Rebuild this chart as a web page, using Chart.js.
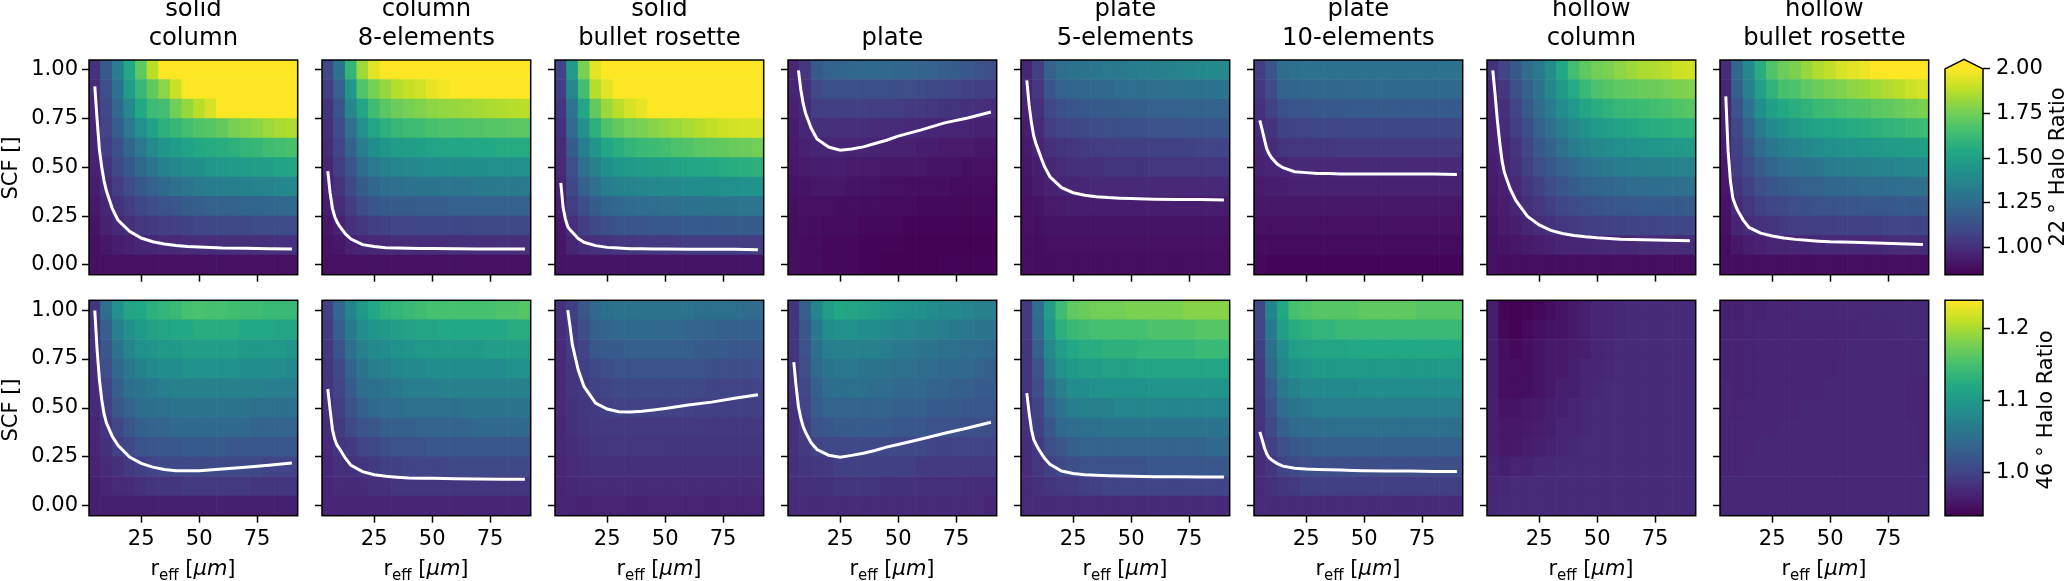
<!DOCTYPE html>
<html>
<head>
<meta charset="utf-8">
<style>
  html, body { margin: 0; padding: 0; background: #fff; overflow: hidden; width: 2067px; height: 581px; }
  body { position: relative; font-family: "DejaVu Sans", sans-serif; color: #000; }
  canvas { position: absolute; }
  .lab { position: absolute; font-size: 21px; line-height: 25px; white-space: nowrap; }
  .lab sub { font-size: 15px; line-height: 0; vertical-align: -5px; }
</style>
<script src="https://cdn.jsdelivr.net/npm/chart.js@4"></script>
</head>
<body>
<script>
var rEff = [5,10,15,20,25,30,35,40,45,50,55,60,65,70,75,80,85,90];
var scf = [0,0.1,0.2,0.3,0.4,0.5,0.6,0.7,0.8,0.9,1];
var lineR = [5,6,7,8,9,10,12.5,15,20,25,30,35,40,45,50,60,70,80,90];
var rTicks = [25,50,75];
var scfTicks = [0,0.25,0.5,0.75,1];
var cbTicks22 = [1,1.25,1.5,1.75,2];
var cbTicks46 = [1,1.1,1.2];
var viridisStops = ['#440154','#482475','#414487','#355f8d','#2a788e','#21918c','#22a884','#44bf70','#7ad151','#bddf26','#fde725'];

// each table: rows go from SCF 0 up to SCF 1, columns follow rEff
var solidColumn22 = [
[.90,.90,.90,.90,.90,.90,.90,.90,.90,.90,.90,.90,.90,.90,.90,.90,.90,.90],
[.90,.92,.94,.95,.97,.97,.98,.98,.99,.99,.99,1.0,1.0,1.0,1.0,1.0,1.01,1.01],
[.91,.95,.98,1.0,1.03,1.04,1.05,1.06,1.07,1.09,1.09,1.1,1.1,1.1,1.11,1.11,1.11,1.11],
[.93,.97,1.02,1.05,1.09,1.12,1.14,1.15,1.18,1.19,1.2,1.21,1.21,1.22,1.22,1.23,1.23,1.24],
[.94,.99,1.05,1.11,1.16,1.2,1.24,1.27,1.3,1.31,1.32,1.33,1.34,1.35,1.36,1.36,1.37,1.38],
[.95,1.02,1.1,1.17,1.24,1.3,1.35,1.38,1.41,1.42,1.45,1.46,1.47,1.48,1.49,1.5,1.51,1.52],
[.96,1.05,1.13,1.23,1.31,1.39,1.44,1.48,1.51,1.54,1.55,1.56,1.58,1.6,1.61,1.64,1.65,1.66],
[.97,1.08,1.19,1.31,1.42,1.51,1.58,1.61,1.65,1.68,1.69,1.72,1.76,1.78,1.8,1.83,1.85,1.86],
[.98,1.10,1.24,1.38,1.54,1.63,1.65,1.75,1.82,1.88,1.93,2.02,2.02,2.02,2.02,2.02,2.02,2.02],
[.99,1.13,1.28,1.48,1.61,1.72,1.8,1.91,2.02,2.02,2.02,2.02,2.02,2.02,2.02,2.02,2.02,2.02],
[1.01,1.17,1.33,1.54,1.71,1.88,2.02,2.02,2.02,2.02,2.02,2.02,2.02,2.02,2.02,2.02,2.02,2.02]];
var column8El22 = [
[.9,.9,.9,.9,.9,.9,.9,.9,.9,.9,.9,.9,.9,.9,.9,.9,.9,.9],
[.91,.92,.95,.97,.98,.98,.99,.99,.99,.99,.99,1.0,1.0,1.0,1.0,1.0,1.0,1.0],
[.92,.95,1.0,1.03,1.06,1.07,1.08,1.08,1.09,1.09,1.09,1.09,1.09,1.1,1.1,1.1,1.1,1.1],
[.94,.99,1.05,1.11,1.15,1.17,1.18,1.18,1.19,1.19,1.19,1.2,1.2,1.2,1.2,1.2,1.2,1.2],
[.95,1.02,1.1,1.18,1.23,1.26,1.27,1.28,1.29,1.29,1.3,1.3,1.3,1.31,1.31,1.31,1.31,1.31],
[.97,1.05,1.15,1.25,1.31,1.35,1.37,1.38,1.39,1.4,1.4,1.41,1.41,1.42,1.42,1.42,1.42,1.42],
[.985,1.08,1.21,1.33,1.41,1.45,1.48,1.49,1.5,1.51,1.52,1.53,1.53,1.54,1.54,1.55,1.55,1.55],
[1.0,1.11,1.27,1.42,1.52,1.58,1.61,1.63,1.64,1.66,1.67,1.67,1.68,1.68,1.69,1.69,1.7,1.7],
[1.02,1.15,1.37,1.52,1.64,1.7,1.74,1.76,1.78,1.8,1.81,1.82,1.83,1.84,1.85,1.86,1.87,1.88],
[1.06,1.2,1.45,1.68,1.76,1.82,1.87,1.9,1.92,1.96,1.98,2.01,2.02,2.02,2.02,2.02,2.02,2.02],
[1.1,1.29,1.6,1.83,1.95,2.02,2.02,2.02,2.02,2.02,2.02,2.02,2.02,2.02,2.02,2.02,2.02,2.02]];
var solidBullet22 = [
[.91,.91,.91,.91,.91,.91,.91,.91,.91,.91,.91,.91,.91,.91,.91,.91,.91,.91],
[.915,.96,.99,1.01,1.02,1.03,1.03,1.04,1.04,1.04,1.04,1.05,1.05,1.05,1.05,1.05,1.05,1.05],
[.92,1.0,1.06,1.1,1.12,1.14,1.15,1.15,1.16,1.16,1.16,1.17,1.17,1.17,1.17,1.18,1.18,1.18],
[.94,1.05,1.13,1.18,1.22,1.24,1.25,1.26,1.26,1.27,1.27,1.28,1.28,1.29,1.29,1.29,1.3,1.3],
[.96,1.09,1.2,1.27,1.32,1.35,1.36,1.37,1.38,1.39,1.39,1.4,1.41,1.41,1.42,1.42,1.43,1.43],
[.98,1.13,1.27,1.35,1.42,1.45,1.47,1.48,1.49,1.5,1.51,1.52,1.53,1.54,1.55,1.56,1.57,1.58],
[.99,1.18,1.34,1.44,1.53,1.57,1.6,1.62,1.63,1.65,1.67,1.68,1.7,1.71,1.72,1.73,1.74,1.75],
[1.01,1.25,1.43,1.58,1.68,1.72,1.75,1.77,1.79,1.81,1.83,1.85,1.87,1.89,1.91,1.92,1.93,1.93],
[1.03,1.3,1.53,1.72,1.83,1.88,1.93,1.96,2.02,2.02,2.02,2.02,2.02,2.02,2.02,2.02,2.02,2.02],
[1.05,1.38,1.65,1.87,1.95,2.02,2.02,2.02,2.02,2.02,2.02,2.02,2.02,2.02,2.02,2.02,2.02,2.02],
[1.08,1.47,1.77,1.95,2.02,2.02,2.02,2.02,2.02,2.02,2.02,2.02,2.02,2.02,2.02,2.02,2.02,2.02]];
var plate22 = [
[.89,.88,.88,.87,.87,.87,.86,.86,.85,.85,.85,.85,.85,.86,.86,.86,.86,.86],
[.89,.88,.88,.87,.87,.87,.86,.86,.86,.86,.85,.85,.85,.85,.85,.85,.85,.85],
[.89,.89,.89,.88,.88,.88,.87,.87,.87,.87,.86,.86,.86,.86,.86,.86,.86,.86],
[.9,.9,.9,.9,.89,.89,.89,.89,.88,.88,.88,.87,.87,.87,.87,.87,.87,.87],
[.91,.91,.92,.92,.92,.91,.91,.91,.9,.9,.89,.89,.89,.89,.88,.88,.88,.88],
[.92,.93,.94,.94,.94,.93,.93,.93,.92,.92,.92,.92,.91,.91,.91,.9,.9,.9],
[.93,.95,.97,.97,.97,.96,.96,.96,.95,.95,.95,.94,.94,.93,.93,.93,.92,.92],
[.94,.97,1.0,1.01,1.0,1.0,1.0,.99,.99,.99,.98,.98,.97,.97,.96,.96,.95,.95],
[.95,.98,1.05,1.06,1.06,1.06,1.06,1.05,1.05,1.05,1.04,1.04,1.03,1.02,1.02,1.01,1.0,.99],
[.96,1.0,1.1,1.13,1.13,1.13,1.13,1.13,1.13,1.12,1.12,1.11,1.1,1.09,1.08,1.07,1.06,1.05],
[.97,1.03,1.17,1.2,1.22,1.23,1.24,1.24,1.24,1.23,1.22,1.21,1.2,1.19,1.18,1.16,1.14,1.12]];
var plate5El22 = [
[.89,.89,.89,.89,.89,.89,.89,.89,.89,.89,.89,.89,.89,.89,.89,.89,.89,.89],
[.89,.89,.9,.9,.9,.9,.9,.9,.9,.9,.9,.9,.9,.9,.9,.9,.9,.9],
[.9,.9,.91,.91,.91,.91,.91,.91,.91,.91,.91,.91,.91,.91,.91,.91,.91,.91],
[.9,.91,.93,.93,.94,.94,.94,.94,.94,.94,.94,.94,.94,.94,.94,.94,.94,.94],
[.91,.93,.95,.96,.97,.97,.98,.98,.98,.98,.98,.98,.98,.98,.98,.98,.98,.98],
[.92,.94,.97,.99,1.0,1.01,1.01,1.02,1.02,1.02,1.02,1.03,1.03,1.03,1.03,1.03,1.03,1.03],
[.93,.96,1.0,1.02,1.03,1.04,1.05,1.05,1.06,1.06,1.06,1.07,1.07,1.07,1.07,1.08,1.08,1.08],
[.94,.98,1.05,1.08,1.09,1.1,1.11,1.12,1.12,1.13,1.13,1.14,1.14,1.14,1.15,1.15,1.15,1.15],
[.95,1.0,1.09,1.13,1.15,1.16,1.17,1.18,1.18,1.19,1.19,1.2,1.2,1.2,1.21,1.21,1.21,1.21],
[.96,1.03,1.15,1.2,1.22,1.23,1.24,1.24,1.25,1.26,1.26,1.27,1.27,1.27,1.28,1.28,1.28,1.29],
[.97,1.06,1.2,1.26,1.28,1.29,1.3,1.31,1.31,1.32,1.33,1.34,1.35,1.36,1.37,1.38,1.39,1.39]];
var plate10El22 = [
[.87,.86,.86,.86,.86,.86,.86,.86,.86,.86,.86,.86,.86,.86,.86,.86,.86,.86],
[.88,.88,.88,.88,.88,.88,.88,.88,.88,.88,.88,.88,.88,.88,.88,.88,.88,.88],
[.9,.9,.9,.9,.9,.9,.9,.9,.9,.9,.9,.9,.9,.9,.9,.9,.9,.9],
[.92,.92,.92,.92,.92,.92,.92,.92,.92,.92,.92,.92,.92,.92,.92,.92,.92,.92],
[.93,.94,.94,.95,.95,.95,.95,.95,.95,.95,.95,.95,.95,.95,.95,.95,.95,.95],
[.95,.96,.97,.98,.98,.98,.98,.98,.98,.98,.98,.98,.98,.98,.98,.98,.98,.98],
[.97,.99,1.02,1.03,1.03,1.03,1.03,1.04,1.04,1.04,1.04,1.04,1.04,1.04,1.04,1.04,1.04,1.04],
[.99,1.02,1.07,1.08,1.08,1.09,1.09,1.09,1.09,1.09,1.09,1.09,1.09,1.09,1.09,1.09,1.09,1.09],
[1.01,1.07,1.13,1.15,1.15,1.16,1.16,1.16,1.17,1.17,1.17,1.17,1.17,1.17,1.17,1.17,1.17,1.17],
[1.03,1.11,1.2,1.22,1.23,1.23,1.23,1.23,1.24,1.24,1.24,1.24,1.24,1.24,1.24,1.24,1.24,1.24],
[1.05,1.15,1.25,1.27,1.28,1.28,1.28,1.28,1.28,1.28,1.28,1.28,1.28,1.28,1.28,1.28,1.28,1.29]];
var hollowColumn22 = [
[.9,.89,.89,.89,.89,.89,.89,.89,.89,.89,.89,.89,.89,.89,.89,.89,.89,.89],
[.9,.91,.92,.93,.94,.95,.96,.97,.97,.98,.98,.98,.98,.99,.99,.99,.99,.99],
[.91,.93,.94,.97,.99,1.01,1.03,1.04,1.05,1.06,1.07,1.07,1.08,1.08,1.08,1.09,1.09,1.09],
[.92,.94,.96,1.0,1.03,1.06,1.09,1.11,1.13,1.14,1.15,1.16,1.16,1.17,1.17,1.17,1.17,1.18],
[.93,.95,.98,1.03,1.07,1.11,1.15,1.18,1.2,1.22,1.23,1.24,1.25,1.25,1.26,1.26,1.27,1.27],
[.94,.96,1.0,1.06,1.12,1.16,1.2,1.24,1.27,1.3,1.31,1.32,1.33,1.34,1.35,1.35,1.36,1.36],
[.95,.97,1.02,1.09,1.16,1.21,1.27,1.32,1.36,1.38,1.4,1.42,1.43,1.44,1.45,1.46,1.46,1.47],
[.95,.99,1.05,1.13,1.2,1.27,1.33,1.39,1.43,1.47,1.49,1.51,1.53,1.55,1.56,1.57,1.58,1.58],
[.96,1.0,1.08,1.17,1.25,1.32,1.4,1.46,1.52,1.56,1.59,1.61,1.62,1.63,1.65,1.66,1.68,1.69],
[.96,1.03,1.12,1.21,1.29,1.37,1.47,1.55,1.62,1.67,1.69,1.71,1.72,1.73,1.74,1.75,1.77,1.78],
[1.0,1.08,1.16,1.25,1.31,1.4,1.54,1.65,1.71,1.75,1.77,1.8,1.83,1.85,1.86,1.88,1.91,1.92]];
var hollowBullet22 = [
[.89,.89,.89,.89,.89,.89,.89,.89,.89,.89,.89,.89,.89,.89,.89,.89,.89,.89],
[.89,.92,.94,.95,.96,.96,.97,.97,.98,.98,.98,.98,.98,.98,.99,.99,.99,.99],
[.9,.96,.99,1.01,1.02,1.04,1.05,1.05,1.06,1.06,1.07,1.07,1.07,1.07,1.08,1.08,1.08,1.08],
[.91,.99,1.03,1.07,1.09,1.1,1.12,1.13,1.14,1.14,1.15,1.15,1.16,1.16,1.16,1.17,1.17,1.17],
[.92,1.02,1.07,1.12,1.15,1.17,1.19,1.2,1.21,1.23,1.23,1.24,1.25,1.25,1.26,1.26,1.27,1.27],
[.93,1.05,1.11,1.18,1.22,1.25,1.27,1.29,1.3,1.32,1.33,1.34,1.35,1.36,1.36,1.37,1.38,1.38],
[.94,1.07,1.16,1.25,1.3,1.34,1.36,1.38,1.4,1.42,1.43,1.44,1.45,1.46,1.47,1.48,1.49,1.5],
[.95,1.1,1.21,1.32,1.39,1.43,1.46,1.49,1.51,1.53,1.54,1.55,1.56,1.58,1.59,1.6,1.62,1.63],
[.96,1.14,1.28,1.42,1.5,1.54,1.57,1.59,1.62,1.64,1.66,1.67,1.68,1.7,1.71,1.73,1.75,1.77],
[.97,1.19,1.35,1.5,1.59,1.66,1.67,1.71,1.74,1.76,1.78,1.8,1.82,1.84,1.86,1.88,1.91,1.93],
[.99,1.23,1.39,1.56,1.68,1.74,1.77,1.82,1.86,1.89,1.93,1.95,1.97,2.02,2.02,2.02,2.02,2.02]];

var solidColumn46 = [
[.965,.965,.965,.965,.965,.965,.965,.965,.965,.965,.965,.965,.965,.965,.965,.965,.965,.965],
[.965,.97,.975,.975,.98,.985,.985,.985,.99,.99,.99,.99,.99,.99,.985,.985,.985,.985],
[.968,.975,.98,.99,.995,1.0,1.005,1.005,1.005,1.005,1.005,1.005,1.005,1.005,1.005,1.0,1.0,1.0],
[.97,.98,.995,1.005,1.015,1.02,1.02,1.02,1.025,1.025,1.025,1.025,1.02,1.02,1.02,1.02,1.02,1.02],
[.972,.985,1.005,1.02,1.03,1.035,1.035,1.04,1.04,1.04,1.04,1.04,1.04,1.04,1.035,1.035,1.035,1.035],
[.975,.995,1.02,1.035,1.045,1.05,1.05,1.055,1.055,1.055,1.055,1.055,1.055,1.055,1.05,1.05,1.05,1.05],
[.975,1.0,1.03,1.05,1.055,1.06,1.065,1.07,1.07,1.07,1.07,1.07,1.07,1.07,1.07,1.065,1.065,1.065],
[.978,1.01,1.04,1.06,1.07,1.08,1.085,1.085,1.09,1.09,1.09,1.09,1.09,1.085,1.085,1.085,1.085,1.08],
[.98,1.02,1.055,1.075,1.09,1.095,1.1,1.1,1.105,1.105,1.105,1.105,1.105,1.1,1.1,1.1,1.1,1.095],
[.98,1.03,1.07,1.09,1.1,1.11,1.115,1.12,1.12,1.125,1.125,1.125,1.125,1.12,1.12,1.12,1.115,1.115],
[.985,1.05,1.09,1.115,1.12,1.13,1.135,1.14,1.15,1.153,1.15,1.15,1.147,1.145,1.145,1.14,1.14,1.14]];
var column8El46 = [
[.97,.97,.97,.97,.97,.97,.97,.97,.97,.97,.97,.97,.97,.97,.97,.97,.97,.97],
[.97,.975,.975,.975,.98,.98,.985,.985,.985,.985,.985,.985,.985,.985,.985,.985,.985,.985],
[.972,.98,.98,.985,.99,.995,.995,1.0,1.0,1.0,1.0,1.005,1.005,1.005,1.005,1.005,1.005,1.005],
[.975,.985,.99,1.0,1.005,1.01,1.015,1.015,1.015,1.02,1.02,1.02,1.02,1.02,1.02,1.02,1.02,1.02],
[.978,.99,1.005,1.015,1.02,1.03,1.03,1.03,1.035,1.035,1.035,1.035,1.035,1.04,1.04,1.04,1.04,1.04],
[.98,.995,1.015,1.03,1.04,1.045,1.045,1.05,1.05,1.05,1.05,1.05,1.055,1.055,1.055,1.055,1.055,1.055],
[.983,1.0,1.025,1.045,1.05,1.055,1.06,1.065,1.065,1.065,1.07,1.07,1.07,1.07,1.07,1.07,1.07,1.07],
[.985,1.005,1.035,1.055,1.065,1.07,1.075,1.08,1.08,1.085,1.085,1.085,1.085,1.085,1.085,1.085,1.09,1.09],
[.988,1.015,1.05,1.07,1.08,1.085,1.09,1.095,1.1,1.1,1.1,1.1,1.1,1.1,1.105,1.105,1.105,1.105],
[.99,1.03,1.06,1.085,1.095,1.1,1.105,1.11,1.115,1.115,1.12,1.12,1.12,1.12,1.12,1.12,1.125,1.125],
[.995,1.04,1.075,1.10,1.12,1.13,1.135,1.14,1.145,1.15,1.15,1.15,1.15,1.15,1.15,1.155,1.155,1.16]];
var solidBullet46 = [
[.97,.968,.968,.968,.968,.968,.968,.968,.968,.968,.968,.968,.968,.968,.968,.968,.968,.968],
[.97,.972,.975,.975,.975,.975,.975,.975,.975,.975,.975,.975,.975,.975,.975,.975,.975,.975],
[.97,.975,.978,.98,.98,.98,.98,.98,.98,.98,.98,.98,.98,.98,.98,.98,.98,.98],
[.972,.978,.98,.985,.985,.987,.987,.987,.987,.985,.985,.985,.985,.985,.985,.985,.985,.985],
[.972,.98,.985,.988,.99,.99,.99,.99,.99,.99,.99,.99,.99,.988,.988,.988,.988,.988],
[.975,.982,.988,.99,.995,.998,.998,.998,.998,.998,.998,.998,.995,.995,.995,.995,.995,.995],
[.975,.985,.99,.998,1.0,1.005,1.005,1.005,1.005,1.005,1.005,1.005,1.005,1.0,1.0,1.0,1.0,1.0],
[.975,.985,.995,1.005,1.01,1.015,1.015,1.015,1.015,1.015,1.015,1.015,1.015,1.01,1.01,1.01,1.01,1.01],
[.975,.99,1.0,1.02,1.025,1.025,1.03,1.03,1.03,1.03,1.03,1.03,1.025,1.025,1.025,1.02,1.02,1.02],
[.978,.99,1.01,1.03,1.035,1.04,1.04,1.04,1.04,1.04,1.04,1.035,1.035,1.035,1.03,1.03,1.03,1.03],
[.98,.995,1.02,1.04,1.05,1.055,1.055,1.055,1.055,1.055,1.055,1.055,1.05,1.05,1.05,1.05,1.045,1.045]];
var plate46 = [
[.975,.975,.975,.975,.975,.975,.975,.975,.975,.975,.975,.975,.975,.975,.975,.975,.975,.97],
[.978,.98,.982,.982,.985,.985,.985,.985,.982,.982,.982,.98,.98,.98,.98,.978,.978,.978],
[.98,.985,.988,.99,.995,.995,.995,.995,.995,.995,.995,.99,.99,.99,.99,.99,.99,.99],
[.98,.99,1.0,1.005,1.005,1.005,1.005,1.005,1.005,1.005,1.005,1.005,1.0,1.0,1.0,1.0,1.0,1.0],
[.98,.995,1.015,1.02,1.025,1.025,1.025,1.025,1.025,1.02,1.02,1.02,1.015,1.015,1.015,1.01,1.01,1.01],
[.982,1.0,1.025,1.035,1.035,1.035,1.035,1.035,1.035,1.03,1.03,1.03,1.025,1.025,1.025,1.02,1.02,1.02],
[.983,1.005,1.03,1.045,1.05,1.05,1.05,1.045,1.045,1.04,1.04,1.04,1.035,1.035,1.03,1.03,1.025,1.025],
[.985,1.01,1.04,1.055,1.06,1.06,1.055,1.055,1.055,1.05,1.05,1.045,1.045,1.04,1.04,1.04,1.035,1.03],
[.985,1.015,1.05,1.065,1.07,1.07,1.07,1.07,1.065,1.06,1.06,1.055,1.055,1.05,1.05,1.045,1.045,1.04],
[.985,1.02,1.06,1.085,1.09,1.09,1.085,1.085,1.08,1.075,1.075,1.07,1.07,1.065,1.06,1.06,1.055,1.055],
[.985,1.03,1.075,1.105,1.12,1.115,1.11,1.105,1.1,1.095,1.09,1.09,1.085,1.08,1.08,1.075,1.07,1.07]];
var plate5El46 = [
[.975,.975,.975,.975,.975,.975,.975,.975,.975,.975,.975,.975,.975,.975,.975,.975,.975,.975],
[.975,.98,.985,.99,.99,.995,.995,1.0,1.0,1.0,1.0,1.0,1.0,1.0,1.0,1.0,1.0,1.0],
[.975,.985,.995,1.005,1.01,1.015,1.015,1.015,1.015,1.015,1.015,1.02,1.02,1.02,1.02,1.02,1.02,1.02],
[.978,.99,1.01,1.02,1.03,1.035,1.035,1.035,1.035,1.035,1.035,1.035,1.035,1.035,1.035,1.035,1.04,1.04],
[.98,.995,1.02,1.04,1.045,1.05,1.05,1.055,1.055,1.055,1.055,1.055,1.055,1.055,1.055,1.055,1.055,1.055],
[.98,1.0,1.035,1.055,1.065,1.07,1.07,1.07,1.075,1.075,1.075,1.075,1.075,1.075,1.075,1.075,1.075,1.075],
[.983,1.01,1.05,1.07,1.085,1.085,1.09,1.09,1.09,1.09,1.09,1.095,1.095,1.095,1.095,1.095,1.095,1.095],
[.985,1.015,1.065,1.09,1.1,1.105,1.105,1.11,1.11,1.11,1.115,1.115,1.115,1.115,1.115,1.115,1.115,1.115],
[.985,1.03,1.08,1.105,1.12,1.125,1.125,1.13,1.13,1.13,1.135,1.135,1.135,1.135,1.135,1.14,1.14,1.14],
[.988,1.04,1.095,1.13,1.14,1.145,1.15,1.15,1.15,1.15,1.15,1.155,1.155,1.155,1.155,1.16,1.16,1.16],
[.99,1.05,1.105,1.145,1.165,1.17,1.175,1.175,1.175,1.18,1.18,1.18,1.18,1.18,1.185,1.185,1.185,1.185]];
var plate10El46 = [
[.975,.975,.975,.975,.975,.975,.975,.975,.975,.975,.975,.975,.975,.975,.975,.975,.975,.975],
[.975,.98,.985,.99,.995,.995,.995,.995,.995,.995,.995,.995,.995,.995,.995,.995,.995,.995],
[.978,.985,1.0,1.005,1.01,1.01,1.01,1.01,1.01,1.01,1.01,1.01,1.01,1.01,1.01,1.01,1.01,1.01],
[.98,.995,1.01,1.02,1.025,1.03,1.03,1.03,1.03,1.03,1.03,1.03,1.03,1.03,1.03,1.03,1.03,1.03],
[.983,1.005,1.03,1.04,1.045,1.045,1.05,1.05,1.05,1.05,1.05,1.05,1.05,1.05,1.05,1.05,1.05,1.05],
[.985,1.015,1.045,1.055,1.06,1.065,1.065,1.065,1.065,1.065,1.065,1.065,1.065,1.065,1.065,1.065,1.065,1.065],
[.988,1.025,1.06,1.07,1.08,1.08,1.08,1.08,1.08,1.085,1.085,1.085,1.085,1.085,1.085,1.085,1.085,1.085],
[.99,1.04,1.075,1.09,1.095,1.1,1.1,1.1,1.1,1.1,1.1,1.1,1.1,1.1,1.1,1.1,1.1,1.1],
[.995,1.05,1.085,1.105,1.11,1.115,1.115,1.115,1.12,1.12,1.12,1.12,1.12,1.12,1.12,1.12,1.12,1.12],
[1.0,1.06,1.105,1.125,1.13,1.135,1.135,1.14,1.14,1.14,1.14,1.14,1.14,1.14,1.14,1.14,1.14,1.14],
[1.005,1.075,1.12,1.15,1.155,1.16,1.16,1.16,1.16,1.165,1.165,1.165,1.165,1.165,1.16,1.16,1.16,1.16]];
var hollowColumn46 = [
[.972,.975,.975,.975,.975,.975,.975,.975,.975,.975,.975,.975,.975,.975,.975,.975,.975,.975],
[.97,.972,.975,.975,.975,.975,.975,.975,.975,.975,.975,.975,.975,.975,.975,.975,.975,.975],
[.968,.965,.968,.968,.972,.972,.975,.975,.975,.975,.975,.975,.975,.975,.975,.975,.975,.975],
[.965,.958,.96,.962,.965,.968,.97,.972,.975,.975,.975,.975,.975,.975,.975,.975,.975,.975],
[.965,.958,.958,.96,.962,.965,.97,.97,.972,.975,.975,.975,.975,.975,.975,.975,.975,.975],
[.965,.955,.955,.958,.96,.965,.965,.97,.972,.975,.975,.975,.975,.975,.975,.975,.975,.975],
[.963,.952,.95,.952,.955,.96,.965,.965,.97,.972,.975,.975,.975,.975,.975,.975,.975,.975],
[.963,.952,.95,.95,.955,.96,.96,.965,.97,.97,.972,.975,.975,.975,.975,.975,.975,.975],
[.963,.95,.945,.95,.955,.96,.96,.962,.965,.97,.972,.975,.975,.975,.975,.975,.975,.975],
[.963,.945,.94,.945,.95,.955,.955,.96,.965,.97,.97,.972,.975,.975,.975,.975,.975,.975],
[.963,.942,.94,.942,.945,.95,.955,.96,.965,.97,.97,.972,.975,.975,.975,.975,.975,.975]];
var hollowBullet46 = [
[.972,.972,.972,.972,.972,.972,.972,.972,.972,.972,.972,.972,.972,.972,.972,.972,.972,.972],
[.972,.972,.972,.972,.972,.972,.972,.972,.972,.972,.972,.972,.972,.972,.972,.972,.972,.972],
[.97,.97,.972,.972,.972,.972,.972,.972,.972,.972,.972,.972,.972,.972,.972,.972,.972,.972],
[.97,.97,.97,.972,.972,.972,.972,.972,.972,.972,.972,.972,.972,.972,.972,.972,.972,.97],
[.97,.97,.97,.97,.97,.972,.972,.972,.972,.972,.972,.972,.972,.972,.972,.972,.972,.97],
[.97,.968,.97,.97,.97,.97,.97,.972,.972,.972,.972,.972,.972,.972,.972,.972,.97,.97],
[.97,.968,.968,.97,.97,.97,.97,.97,.97,.972,.972,.972,.972,.972,.972,.972,.97,.97],
[.968,.968,.968,.97,.97,.97,.97,.97,.97,.97,.972,.972,.972,.972,.972,.972,.972,.972],
[.968,.968,.968,.97,.97,.97,.97,.97,.97,.97,.97,.972,.972,.972,.972,.972,.972,.972],
[.968,.968,.968,.97,.97,.97,.97,.97,.97,.97,.97,.97,.972,.972,.972,.974,.974,.974],
[.966,.966,.968,.968,.97,.97,.97,.972,.972,.972,.974,.974,.974,.974,.974,.974,.974,.974]];

// white curves, values at lineR
var solidColumnLine22 = [.915,.745,.59,.50,.43,.38,.29,.23,.172,.138,.119,.107,.10,.095,.092,.087,.085,.083,.082];
var column8ElLine22 = [.481,.37,.29,.247,.22,.20,.16,.133,.104,.094,.088,.087,.085,.084,.084,.083,.082,.082,.082];
var solidBulletLine22 = [.42,.294,.235,.196,.18,.167,.135,.116,.099,.09,.087,.083,.083,.082,.082,.081,.08,.08,.078];
var plateLine22 = [null,null,.997,.90,.83,.78,.70,.646,.604,.588,.594,.605,.622,.639,.66,.692,.728,.753,.784];
var plate5ElLine22 = [.946,.82,.728,.66,.62,.587,.507,.452,.396,.37,.357,.35,.345,.342,.34,.337,.335,.335,.333];
var plate10ElLine22 = [.741,.694,.643,.595,.57,.55,.517,.498,.478,.473,.469,.468,.466,.466,.466,.466,.466,.466,.464];
var hollowColumnLine22 = [.997,.873,.737,.626,.533,.474,.389,.329,.248,.205,.177,.161,.151,.144,.139,.132,.129,.126,.124];
var hollowBulletLine22 = [.864,.583,.43,.345,.31,.282,.23,.192,.163,.148,.138,.131,.126,.122,.119,.116,.112,.109,.105];
var solidColumnLine46 = [.998,.797,.644,.542,.47,.424,.356,.31,.249,.217,.198,.186,.18,.179,.179,.188,.198,.208,.219];
var column8ElLine46 = [.597,.492,.39,.34,.31,.293,.245,.207,.175,.159,.151,.146,.142,.141,.141,.139,.137,.136,.136];
var solidBulletLine46 = [null,null,null,1.0,.915,.822,.695,.61,.525,.495,.481,.48,.483,.49,.498,.515,.53,.55,.568];
var plateLine46 = [.734,.61,.508,.449,.407,.378,.322,.288,.259,.249,.258,.269,.283,.30,.314,.342,.371,.398,.427];
var plate5ElLine46 = [.576,.475,.39,.339,.314,.292,.246,.212,.178,.166,.159,.156,.154,.153,.151,.149,.149,.147,.147];
var plate10ElLine46 = [.378,.339,.297,.266,.246,.236,.216,.203,.192,.188,.186,.185,.183,.181,.18,.178,.178,.176,.176];

var titles = [['solid','column'],['column','8-elements'],['solid','bullet rosette'],['','plate'],['plate','5-elements'],['plate','10-elements'],['hollow','column'],['hollow','bullet rosette']];
var tables22 = [solidColumn22,column8El22,solidBullet22,plate22,plate5El22,plate10El22,hollowColumn22,hollowBullet22];
var tables46 = [solidColumn46,column8El46,solidBullet46,plate46,plate5El46,plate10El46,hollowColumn46,hollowBullet46];
var lines22 = [solidColumnLine22,column8ElLine22,solidBulletLine22,plateLine22,plate5ElLine22,plate10ElLine22,hollowColumnLine22,hollowBulletLine22];
var lines46 = [solidColumnLine46,column8ElLine46,solidBulletLine46,plateLine46,plate5ElLine46,plate10ElLine46,null,null];

var range22 = [0.846,2.0];
var range46 = [0.939,1.24];

Chart.defaults.font.family = '"DejaVu Sans"';
Chart.defaults.color = '#000';
Chart.defaults.animation = false;

function hexRgb(h) {
  return [parseInt(h.substr(1,2),16),parseInt(h.substr(3,2),16),parseInt(h.substr(5,2),16)];
}
function viridis(t) {
  t = Math.max(0,Math.min(1,t));
  var p = t*(viridisStops.length-1), i = Math.min(Math.floor(p),viridisStops.length-2), f = p-i;
  var a = hexRgb(viridisStops[i]), b = hexRgb(viridisStops[i+1]);
  return 'rgb('+Math.round(a[0]+(b[0]-a[0])*f)+','+Math.round(a[1]+(b[1]-a[1])*f)+','+Math.round(a[2]+(b[2]-a[2])*f)+')';
}

var frame = {
  id: 'frame',
  afterDatasetsDraw: function(chart) {
    var a = chart.chartArea, c = chart.ctx;
    c.save();
    c.strokeStyle = '#000';
    c.lineWidth = 1.5;
    c.strokeRect(a.left,a.top,a.right-a.left,a.bottom-a.top);
    c.restore();
  }
};

function addCanvas(left,top,w,h) {
  var cv = document.createElement('canvas');
  cv.width = w; cv.height = h;
  cv.style.left = left+'px'; cv.style.top = top+'px';
  cv.style.width = w+'px'; cv.style.height = h+'px';
  document.body.appendChild(cv);
  return cv;
}

function addLabel(html,x,y,rot) {
  var d = document.createElement('div');
  d.className = 'lab';
  d.innerHTML = html;
  d.style.left = x+'px'; d.style.top = y+'px';
  d.style.transform = 'translate(-50%,-50%)'+(rot ? ' rotate(-90deg)' : '');
  document.body.appendChild(d);
}

function tickStyle() {
  return { drawOnChartArea:false, drawTicks:true, tickLength:7, tickWidth:1.5, tickColor:'#000' };
}

// stops the axis from pushing the plot area around for its labels
function pinAxis(ax) {
  ax.paddingTop = 0; ax.paddingBottom = 0; ax.paddingLeft = 0; ax.paddingRight = 0;
}

function drawPanel(col,row) {
  var top = row == 0;
  var table = top ? tables22[col] : tables46[col];
  var curve = top ? lines22[col] : lines46[col];
  var range = top ? range22 : range46;
  var sets = [];
  scf.forEach(function(s,j) {
    sets.push({
      type:'bar', order:1, grouped:false, barPercentage:1, categoryPercentage:1, borderWidth:0,
      data: rEff.map(function(r) { return {x:r,y:[s-0.05,s+0.05]}; }),
      backgroundColor: table[j].map(function(v) { return viridis((v-range[0])/(range[1]-range[0])); })
    });
  });
  if (curve) {
    sets.push({
      type:'line', order:0, borderColor:'#fff', borderWidth:3, pointRadius:0, tension:0, fill:false,
      data: lineR.map(function(r,i) { return {x:r,y:curve[i]}; })
    });
  }
  var left = 89+233*col-80;
  var cv = top ? addCanvas(left,-5,299,290) : addCanvas(left,290,299,276);
  new Chart(cv, {
    type:'bar',
    data:{datasets:sets},
    plugins:[frame],
    options:{
      responsive:false,
      devicePixelRatio:1,
      layout:{padding: top ? {left:0,right:10.3,top:0,bottom:0} : {left:0,right:10.3,top:10.3,bottom:0}},
      events:[],
      plugins:{
        legend:{display:false},
        tooltip:{enabled:false},
        title:{display:top,fullSize:false,text:titles[col],font:{size:24.3,weight:'normal',lineHeight:1.2},color:'#000',padding:{top:0,bottom:6.7}}
      },
      scales:{
        x:{
          type:'linear',min:2.5,max:92.5,offset:false,
          border:{display:false},
          grid:Object.assign({offset:false},tickStyle()),
          ticks:{display:!top,font:{size:21},padding:4,maxRotation:0,autoSkip:false,callback:function(v){return String(v);}},
          afterBuildTicks:function(ax){ax.ticks=rTicks.map(function(v){return {value:v};});},
          afterFit:function(ax){ax.height = top ? 10.3 : 50.3; pinAxis(ax);}
        },
        y:{
          type:'linear',min:-0.05,max:1.05,
          border:{display:false},
          grid:tickStyle(),
          ticks:{display:col==0,font:{size:21},padding:4,autoSkip:false,callback:function(v){return v.toFixed(2);}},
          afterBuildTicks:function(ax){ax.ticks=scfTicks.map(function(v){return {value:v};});},
          afterFit:function(ax){ax.width = 80; pinAxis(ax);}
        }
      }
    }
  });
  if (!top) addLabel('r<sub>eff</sub> [<i>μm</i>]', 89+233*col+104, 568, false);
}

function drawColorbar(top) {
  var vmin = top ? range22[0] : range46[0];
  var vmax = top ? range22[1] : range46[1];
  var ymax = top ? 2.054 : vmax;
  var ticks = top ? cbTicks22 : cbTicks46;
  var cap = {
    id:'cap',
    afterDatasetsDraw:function(chart) {
      var a = chart.chartArea, c = chart.ctx, mid = (a.left+a.right)/2;
      var y2 = chart.scales.y.getPixelForValue(vmax);
      c.save();
      if (top) {
        c.fillStyle = viridisStops[viridisStops.length-1];
        c.beginPath();
        c.moveTo(a.left,y2);
        c.lineTo(mid,a.top);
        c.lineTo(a.right,y2);
        c.closePath();
        c.fill();
      }
      c.strokeStyle = '#000';
      c.lineWidth = 1.5;
      c.beginPath();
      c.moveTo(a.left,a.bottom);
      c.lineTo(a.left,y2);
      if (top) c.lineTo(mid,a.top);
      c.lineTo(a.right,y2);
      c.lineTo(a.right,a.bottom);
      c.closePath();
      c.stroke();
      c.restore();
    }
  };
  var cv = addCanvas(1940,top ? 49 : 290,125,236);
  new Chart(cv, {
    type:'bar',
    data:{
      labels:['cb'],
      datasets:[{
        data:[[vmin,vmax]],
        barPercentage:1, categoryPercentage:1, borderWidth:0,
        backgroundColor:function(ctx) {
          var sc = ctx.chart.scales.y, y0 = sc ? sc.getPixelForValue(vmin) : NaN, y1 = sc ? sc.getPixelForValue(vmax) : NaN;
          if (!isFinite(y0) || !isFinite(y1)) return viridisStops[0];
          var g = ctx.chart.ctx.createLinearGradient(0,y0,0,y1);
          viridisStops.forEach(function(h,i) { g.addColorStop(i/(viridisStops.length-1),h); });
          return g;
        }
      }]
    },
    plugins:[cap],
    options:{
      responsive:false,
      devicePixelRatio:1,
      events:[],
      layout:{padding:{left:5,right:0,top:10.3,bottom:10.3}},
      plugins:{legend:{display:false},tooltip:{enabled:false}},
      scales:{
        x:{display:false},
        y:{
          position:'right',type:'linear',min:vmin,max:ymax,
          border:{display:false},
          grid:tickStyle(),
          ticks:{font:{size:21},padding:6,autoSkip:false,callback:function(v){return v.toFixed(top ? 2 : 1);}},
          afterBuildTicks:function(ax){ax.ticks=ticks.map(function(v){return {value:v};});},
          afterFit:function(ax){ax.width = 82; pinAxis(ax);}
        }
      }
    }
  });
}

for (var row=0; row<2; row++) {
  for (var col=0; col<8; col++) drawPanel(col,row);
  drawColorbar(row==0);
}
addLabel('SCF []',10,168,true);
addLabel('SCF []',10,410,true);
addLabel('22<span style="margin:0 8px 0 6px">°</span>Halo Ratio',2057,167,true);
addLabel('46<span style="margin:0 8px 0 6px">°</span>Halo Ratio',2045,410,true);
</script>
</body>
</html>
